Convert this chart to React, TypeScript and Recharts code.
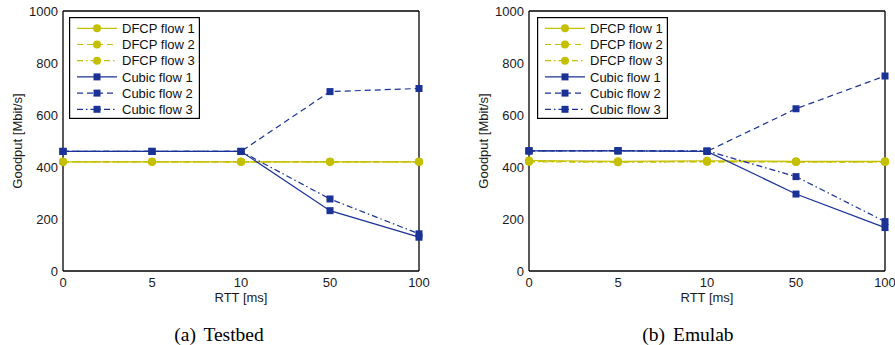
import { LineChart, Line, XAxis, YAxis, Legend } from "recharts"

const rtt = ["0", "5", "10", "50", "100"]
const yTicks = [0, 200, 400, 600, 800, 1000]

// (a) Testbed
const testbedDfcp1 = [420, 420, 420, 420, 420]
const testbedDfcp2 = [420, 420, 420, 420, 420]
const testbedDfcp3 = [420, 420, 420, 420, 420]
const testbedCubic1 = [460, 460, 460, 232, 130]
const testbedCubic2 = [460, 460, 460, 690, 702]
const testbedCubic3 = [460, 460, 460, 277, 143]

// (b) Emulab
const emulabDfcp1 = [425, 422, 424, 422, 422]
const emulabDfcp2 = [422, 420, 421, 420, 420]
const emulabDfcp3 = [420, 418, 420, 419, 419]
const emulabCubic1 = [462, 462, 460, 296, 167]
const emulabCubic2 = [462, 463, 460, 624, 750]
const emulabCubic3 = [462, 462, 462, 363, 190]

const YELLOW = "#c4c000"
const BLUE = "#1a3296"
const SANS = "'Liberation Sans', Arial, Helvetica, sans-serif"

const series = [
  { key: "dfcp1", name: "DFCP flow 1", color: YELLOW, dash: undefined, marker: "circle" },
  { key: "dfcp2", name: "DFCP flow 2", color: YELLOW, dash: "6 4", marker: "circle" },
  { key: "dfcp3", name: "DFCP flow 3", color: YELLOW, dash: "6 3 1.5 3", marker: "circle" },
  { key: "cubic1", name: "Cubic flow 1", color: BLUE, dash: undefined, marker: "square" },
  { key: "cubic2", name: "Cubic flow 2", color: BLUE, dash: "6 4", marker: "square" },
  { key: "cubic3", name: "Cubic flow 3", color: BLUE, dash: "6 3 1.5 3", marker: "square" },
]

const buildRows = (cols: number[][]) =>
  rtt.map((r, i) => {
    const row: Record<string, string | number> = { rtt: r }
    series.forEach((s, j) => (row[s.key] = cols[j][i]))
    return row
  })

const testbedData = buildRows([testbedDfcp1, testbedDfcp2, testbedDfcp3, testbedCubic1, testbedCubic2, testbedCubic3])
const emulabData = buildRows([emulabDfcp1, emulabDfcp2, emulabDfcp3, emulabCubic1, emulabCubic2, emulabCubic3])

function Marker({ cx, cy, shape, color }: { cx: number; cy: number; shape: string; color: string }) {
  if (shape === "circle") return <circle cx={cx} cy={cy} r={4} fill={color} />
  return <rect x={cx - 3.5} y={cy - 3.5} width={7} height={7} fill={color} />
}

const LegendBox = () => (
  <svg width={131} height={102} style={{ display: "block" }}>
    <rect x={0.6} y={0.6} width={129.8} height={100.8} fill="#fff" stroke="#000" strokeWidth={1.2} />
    {series.map((s, i) => {
      const y = 11.3 + i * 16.2
      return (
        <g key={s.key}>
          <line x1={8} x2={48} y1={y} y2={y} stroke={s.color} strokeWidth={1.2} strokeDasharray={s.dash} />
          <Marker cx={28} cy={y} shape={s.marker} color={s.color} />
          <text x={53} y={y + 4.6} fontSize={13} fill="#111" fontFamily={SANS}>
            {s.name}
          </text>
        </g>
      )
    })}
  </svg>
)

const tickStyle = { fontSize: 13, fill: "#1a1a1a", fontFamily: SANS }

function Panel({ data, left, legendLeft, captionLeft, caption }: { data: any[]; left: number; legendLeft: number; captionLeft: number; caption: string }) {
  return (
    <div style={{ position: "absolute", left, top: 0, width: 440, height: 345 }}>
      <LineChart width={440} height={310} data={data} margin={{ top: 11, right: 21, left: 0, bottom: 0 }}>
        <XAxis
          dataKey="rtt"
          height={39}
          tickLine={false}
          tickSize={0}
          tickMargin={7}
          padding={{ left: 0, right: 0 }}
          axisLine={{ stroke: "#000", strokeWidth: 1.3 }}
          tick={tickStyle}
          label={{ value: "RTT [ms]", position: "insideBottom", offset: 8, fontSize: 13, fill: "#1a1a1a" }}
        />
        <XAxis xAxisId="bt" dataKey="rtt" orientation="bottom" mirror tick={false} axisLine={false} tickSize={4} tickLine={{ stroke: "#444" }} />
        <XAxis xAxisId="top" dataKey="rtt" orientation="top" mirror tick={false} tickSize={4} tickLine={{ stroke: "#444" }} axisLine={{ stroke: "#000", strokeWidth: 1.3 }} />
        <YAxis
          domain={[0, 1000]}
          ticks={yTicks}
          width={63}
          tickLine={false}
          tickSize={0}
          tickMargin={5}
          axisLine={{ stroke: "#000", strokeWidth: 1.3 }}
          tick={tickStyle}
          label={{ value: "Goodput [Mbit/s]", angle: -90, position: "insideLeft", offset: 17, fontSize: 13, fill: "#1a1a1a", style: { textAnchor: "middle" } }}
        />
        <YAxis yAxisId="l" domain={[0, 1000]} ticks={yTicks} orientation="left" mirror tick={false} axisLine={false} tickSize={4} tickLine={{ stroke: "#444" }} />
        <YAxis yAxisId="r" domain={[0, 1000]} ticks={yTicks} orientation="right" mirror tick={false} tickSize={4} tickLine={{ stroke: "#444" }} axisLine={{ stroke: "#000", strokeWidth: 1.3 }} />
        <Legend
          layout="vertical"
          align="center"
          verticalAlign="middle"
          content={() => <LegendBox />}
          wrapperStyle={{ left: legendLeft, top: 17, width: 131, height: 102 }}
        />
        {series.map((s) => (
          <Line
            key={s.key}
            dataKey={s.key}
            name={s.name}
            type="linear"
            stroke={s.color}
            strokeWidth={1.2}
            strokeDasharray={s.dash}
            isAnimationActive={false}
            dot={(p: any) => <Marker key={`${s.key}-${p.index}`} cx={p.cx} cy={p.cy} shape={s.marker} color={s.color} />}
            activeDot={false}
          />
        ))}
      </LineChart>
      <div
        style={{
          position: "absolute",
          left: captionLeft,
          top: 324.5,
          width: 440,
          textAlign: "center",
          whiteSpace: "nowrap",
          fontFamily: "'Liberation Serif', 'Times New Roman', serif",
          fontSize: 19.5,
          lineHeight: "20px",
          wordSpacing: 3,
          color: "#000",
        }}
      >
        {caption}
      </div>
    </div>
  )
}

export default function App() {
  return (
    <div style={{ position: "absolute", left: 0, top: 0, width: 895, height: 345, overflow: "hidden", background: "#fff", fontFamily: SANS }}>
      <Panel data={testbedData} left={0} legendLeft={69} captionLeft={-1} caption="(a) Testbed" />
      <Panel data={emulabData} left={466} legendLeft={71} captionLeft={2} caption="(b) Emulab" />
    </div>
  )
}
